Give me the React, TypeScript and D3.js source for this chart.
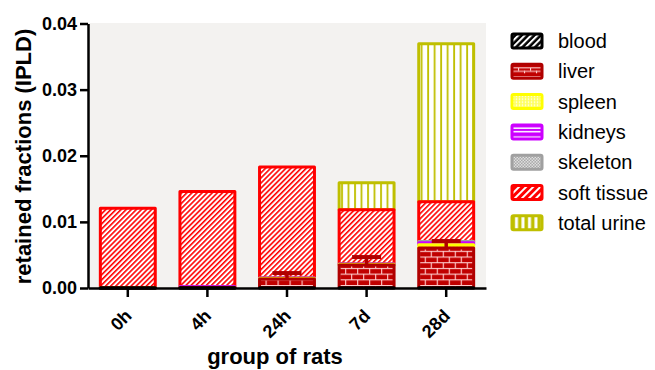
import React, { useEffect, useRef } from "react";
import * as d3 from "d3";

const groups = ["0h", "4h", "24h", "7d", "28d"];
const seriesNames = ["blood", "liver", "spleen", "kidneys", "skeleton", "soft tissue", "total urine"];
const blood = [0.00002, 0.00002, 0.00003, 0.00003, 0.00005];
const liver = [0.00003, 0.00005, 0.00133, 0.00345, 0.006];
const spleen = [0.00001, 0.00002, 0.00008, 0.00008, 0.0005];
const kidneys = [0.00001, 0.0001, 0.00004, 0.00005, 0.0003];
const skeleton = [0.0, 0.00001, 0.00002, 0.00002, 0.0002];
const softTissue = [0.012, 0.0144, 0.0168, 0.0082, 0.006];
const totalUrine = [0.0, 0.0, 0.0, 0.0041, 0.0239];
const liverError = [0.0, 0.0, 0.0009, 0.0012, 0.00105];
const yTicks = [0, 0.01, 0.02, 0.03, 0.04];

const seriesValues = [blood, liver, spleen, kidneys, skeleton, softTissue, totalUrine];
const strokeColors = ["#000000", "#b00000", "#ffff00", "#cc00ff", "#a0a0a0", "#ff0000", "#bfbf00"];
const barFills = ["url(#pBlood)", "url(#pLiver)", "url(#pSpleen)", "url(#pKid)", "url(#pSkel)", "url(#pSoft)", "url(#pUrine)"];
const legendFills = ["url(#lBlood)", "url(#lLiver)", "url(#lSpleen)", "url(#lKid)", "url(#lSkel)", "url(#lSoft)", "url(#lUrine)"];

const W = 655, H = 370;
const plotLeft = 88, plotRight = 486, plotTop = 23, plotBottom = 288;
const FONT = "'Liberation Sans', Arial, Helvetica, sans-serif";

export default function App() {
  const yAxisRef = useRef<SVGGElement>(null);
  const xAxisRef = useRef<SVGGElement>(null);

  const x = d3.scaleBand<string>().domain(groups).range([plotLeft, plotRight]).paddingInner(0.31).paddingOuter(0.155);
  const y = d3.scaleLinear().domain([0, 0.04]).range([plotBottom, plotTop + 0.5]);

  const table = groups.map((g, i) => {
    const row: Record<string, any> = { group: g };
    seriesNames.forEach((s, k) => (row[s] = seriesValues[k][i]));
    return row;
  });
  const stacked = d3.stack<any>().keys(seriesNames)(table);

  useEffect(() => {
    const ya = d3.select(yAxisRef.current!);
    ya.call(
      d3.axisLeft(y).tickValues(yTicks).tickFormat(d3.format(".2f") as any).tickSize(8).tickSizeOuter(0).tickPadding(3)
    );
    ya.select(".domain").attr("stroke", "#000").attr("stroke-width", 2.5);
    ya.selectAll(".tick line").attr("stroke", "#000").attr("stroke-width", 2.5);
    ya.selectAll(".tick text")
      .attr("fill", "#000")
      .style("font-family", FONT)
      .style("font-size", "18px")
      .style("font-weight", "bold");

    const xa = d3.select(xAxisRef.current!);
    xa.call(d3.axisBottom(x).tickSize(9).tickSizeOuter(0));
    xa.select(".domain").attr("stroke", "#000").attr("stroke-width", 2.5);
    xa.selectAll(".tick line").attr("stroke", "#000").attr("stroke-width", 2.5);
    xa.selectAll(".tick text")
      .attr("fill", "#000")
      .attr("x", 0)
      .attr("y", 0)
      .attr("dy", 0)
      .attr("text-anchor", "end")
      .attr("transform", "translate(5,29) rotate(-45)")
      .style("font-family", FONT)
      .style("font-size", "18px")
      .style("font-weight", "bold");
  }, []);

  const bw = x.bandwidth();
  const order = [6, 5, 4, 3, 2, 1, 0];

  return (
    <svg width={W} height={H} style={{ position: "absolute", left: 0, top: 0, background: "#fff" }}>
      <defs>
        <pattern id="pSoft" width="3.6" height="3.6" patternUnits="userSpaceOnUse" patternTransform="rotate(45)">
          <rect width="3.6" height="3.6" fill="#fff" />
          <rect width="1.6" height="3.6" fill="#ff0000" />
        </pattern>
        <pattern id="pLiver" width="12" height="11.4" patternUnits="userSpaceOnUse">
          <rect width="12" height="11.4" fill="#c00000" />
          <rect x="0" y="0" width="12" height="1.1" fill="#ffd0d0" />
          <rect x="0" y="5.7" width="12" height="1.1" fill="#ffd0d0" />
          <rect x="0" y="0" width="1.1" height="5.7" fill="#ffd0d0" />
          <rect x="6" y="5.7" width="1.1" height="5.7" fill="#ffd0d0" />
        </pattern>
        <pattern id="pUrine" width="6.5" height="10" patternUnits="userSpaceOnUse">
          <rect width="6.5" height="10" fill="#fff" />
          <rect x="2" width="1.8" height="10" fill="#bfbf00" />
        </pattern>
        <pattern id="pBlood" width="4" height="4" patternUnits="userSpaceOnUse" patternTransform="rotate(45)">
          <rect width="4" height="4" fill="#000" />
          <rect width="1.5" height="4" fill="#fff" />
        </pattern>
        <pattern id="pSpleen" width="3.5" height="3.5" patternUnits="userSpaceOnUse">
          <rect width="3.5" height="3.5" fill="#ffff00" />
          <rect x="1" y="1" width="1.3" height="1.3" fill="#fff" />
        </pattern>
        <pattern id="pKid" width="10" height="3.5" patternUnits="userSpaceOnUse">
          <rect width="10" height="3.5" fill="#cc00ff" />
          <rect y="1.5" width="10" height="1" fill="#fff" />
        </pattern>
        <pattern id="pSkel" width="3" height="3" patternUnits="userSpaceOnUse">
          <rect width="3" height="3" fill="#a0a0a0" />
          <rect width="1.5" height="1.5" fill="#e0e0e0" />
          <rect x="1.5" y="1.5" width="1.5" height="1.5" fill="#e0e0e0" />
        </pattern>

        <pattern id="lBlood" width="4.5" height="4.5" patternUnits="userSpaceOnUse" patternTransform="rotate(45)">
          <rect width="4.5" height="4.5" fill="#000" />
          <rect width="2" height="4.5" fill="#fff" />
        </pattern>
        <pattern id="lLiver" width="12" height="9" patternUnits="userSpaceOnUse">
          <rect width="12" height="9" fill="#c00000" />
          <rect x="0" y="3" width="12" height="1.1" fill="#ffd0d0" />
          <rect x="0" y="6.5" width="12" height="1.1" fill="#ffd0d0" />
          <rect x="6" y="3" width="1.1" height="3.5" fill="#ffd0d0" />
          <rect x="0" y="6.5" width="1.1" height="3" fill="#ffd0d0" />
        </pattern>
        <pattern id="lSpleen" width="3" height="3" patternUnits="userSpaceOnUse">
          <rect width="3" height="3" fill="#ffff60" />
          <rect x="0.8" y="0.8" width="1.4" height="1.4" fill="#fff" />
        </pattern>
        <pattern id="lKid" width="10" height="9" patternUnits="userSpaceOnUse">
          <rect width="10" height="9" fill="#cc00ff" />
          <rect y="2.5" width="10" height="1.5" fill="#fff" />
          <rect y="6" width="10" height="1.5" fill="#fff" />
        </pattern>
        <pattern id="lSkel" width="3" height="3" patternUnits="userSpaceOnUse">
          <rect width="3" height="3" fill="#a0a0a0" />
          <rect width="1.5" height="1.5" fill="#e8e8e8" />
          <rect x="1.5" y="1.5" width="1.5" height="1.5" fill="#e8e8e8" />
        </pattern>
        <pattern id="lSoft" width="5" height="5" patternUnits="userSpaceOnUse" patternTransform="rotate(45)">
          <rect width="5" height="5" fill="#ff0000" />
          <rect width="2" height="5" fill="#fff" />
        </pattern>
        <pattern id="lUrine" width="6.5" height="10" patternUnits="userSpaceOnUse">
          <rect width="6.5" height="10" fill="#bfbf00" />
          <rect x="3" width="3" height="10" fill="#fff" />
        </pattern>
      </defs>

      <rect x={plotLeft} y={plotTop} width={plotRight - plotLeft} height={plotBottom - plotTop} fill="#f3f2f0" />

      {groups.map((g, i) => (
        <g key={g} transform={`translate(${x(g)},0)`}>
          {order.map((k) => {
            const seg = stacked[k][i];
            const v = seriesValues[k][i];
            if (!(v > 0)) return null;
            const y0 = y(seg[0]);
            const y1 = y(seg[1]);
            return (
              <rect
                key={k}
                x={0}
                y={y1}
                width={bw}
                height={Math.max(0.3, y0 - y1)}
                fill={barFills[k]}
                stroke={strokeColors[k]}
                strokeWidth={3}
                strokeLinejoin="round"
              />
            );
          })}
        </g>
      ))}

      {groups.map((g, i) => {
        if (!(liverError[i] > 0)) return null;
        const top = stacked[1][i][1];
        const cx = (x(g) as number) + bw / 2;
        const yA = y(top);
        const yB = y(top + liverError[i]);
        return (
          <g key={"e" + g} stroke="#b00000">
            <line x1={cx} x2={cx} y1={yA} y2={yB} strokeWidth={3.5} />
            <line x1={cx - 14.5} x2={cx + 14.5} y1={yB} y2={yB} strokeWidth={4} />
          </g>
        );
      })}

      <g ref={yAxisRef} transform={`translate(${plotLeft},0)`} />
      <g ref={xAxisRef} transform={`translate(0,${plotBottom})`} />

      <text
        transform={`translate(31,${(plotTop + plotBottom) / 2 + 1}) rotate(-90)`}
        textAnchor="middle"
        style={{ fontFamily: FONT, fontSize: 22, fontWeight: "bold" }}
        fill="#000"
      >
        retained fractions (IPLD)
      </text>
      <text
        x={275}
        y={364}
        textAnchor="middle"
        style={{ fontFamily: FONT, fontSize: 22, fontWeight: "bold" }}
        fill="#000"
      >
        group of rats
      </text>

      {seriesNames.map((s, k) => {
        const cy = 41 + k * 30.3;
        return (
          <g key={s} transform={`translate(512,${cy - 7})`}>
            <rect x={0} y={0} width={30} height={14} fill={legendFills[k]} stroke={strokeColors[k]} strokeWidth={3} rx={1.5} />
            <text x={46} y={7} dy="0.35em" style={{ fontFamily: FONT, fontSize: 20 }} fill="#000">
              {s}
            </text>
          </g>
        );
      })}
    </svg>
  );
}
